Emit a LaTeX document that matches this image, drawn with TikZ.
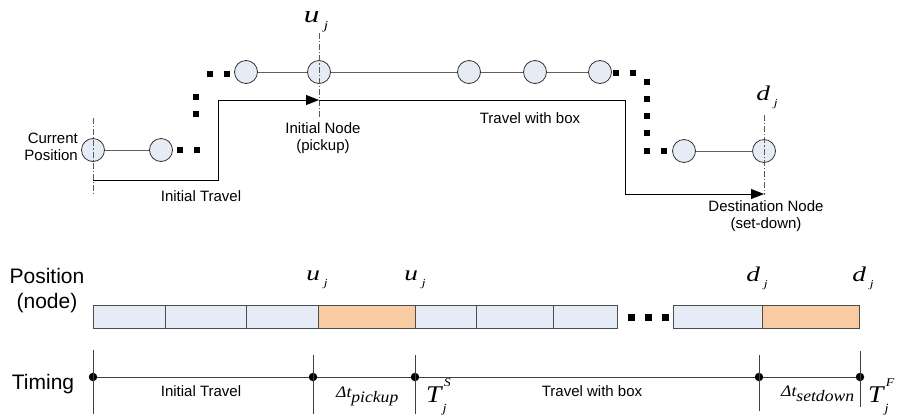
\documentclass[tikz,border=0pt]{standalone}
\usepackage{fontspec}
\setmainfont{Liberation Sans}
\newfontfamily\tms{Liberation Serif}
\usetikzlibrary{arrows.meta}
\definecolor{cellblue}{HTML}{E6ECF6}
\definecolor{cellorange}{HTML}{F9CBA3}
\definecolor{edgegray}{HTML}{606060}
\newcommand\txt[1]{\fontsize{#1}{#1}\selectfont}
% wide italic variable with a lowered subscript, e.g. u_j  (#3 = horizontal stretch)
\newcommand\vsub[3]{\scalebox{#3}[1]{\tms\itshape #1\hspace{0.14em}\raisebox{-0.3em}{\scalebox{0.5}{#2}}}}
% T with a superscript and a subscript j below
\newcommand\tstack[1]{\scalebox{1.15}[1]{\tms\itshape T\rlap{\hspace{0.08em}\raisebox{0.66em}{\scalebox{0.5}{#1}}}\hspace{0.04em}\raisebox{-0.42em}{\scalebox{0.52}{j}}}}
% Delta t with a word subscript
\newcommand\dsub[1]{\scalebox{1.1}[1]{\tms\itshape \symbol{"0394}t\raisebox{-0.36em}{#1}}}
\begin{document}
\begin{tikzpicture}[x=1pt,y=-1pt,
  stop/.style={circle, draw=black!80, fill=cellblue, minimum size=23pt, inner sep=0pt, line width=0.8pt},
  link/.style={draw=edgegray, line width=0.9pt},
  sq/.style={rectangle, fill=black, minimum size=6.5pt, inner sep=0pt},
  route/.style={draw=black, line width=0.9pt},
  tip/.style={-{Triangle[length=13pt,width=10pt]}},
  axisline/.style={draw=black!65, line width=0.8pt, dash pattern=on 6pt off 2pt on 1.2pt off 2pt},
  lbl/.style={font=\txt{15}, inner sep=0pt},
  head/.style={font=\txt{21}, inner sep=0pt},
  var/.style={inner sep=0pt, anchor=base},
  cell/.style={draw=black!70, line width=0.9pt, minimum height=23pt, inner sep=0pt, anchor=west, fill=cellblue},
  hold/.style={cell, fill=cellorange},
  tdot/.style={circle, fill=black, minimum size=8.5pt, inner sep=0pt},
  tick/.style={draw=black!75, line width=0.9pt},
  tline/.style={draw=black!75, line width=0.9pt}
]
\useasboundingbox (0,0) rectangle (908,416);

% ---------- network of stops ----------
\node[stop] (s1) at (93,150) {};
\node[stop] (s2) at (161,150) {};
\node[stop] (s3) at (246,72) {};
\node[stop] (su) at (319,72) {};
\node[stop] (s5) at (469,72) {};
\node[stop] (s6) at (535,72) {};
\node[stop] (s7) at (600,72) {};
\node[stop] (s8) at (684,151) {};
\node[stop] (sd) at (764,151) {};
\draw[link] (s1) -- (s2);
\draw[link] (s3) -- (su) -- (s5) -- (s6) -- (s7);
\draw[link] (s8) -- (sd);

% dotted gaps between the stop groups
\foreach \x/\y [count=\i] in {180/150, 197/150, 196/97, 196/114, 210/74, 227/74,
  616/73, 633/73, 647/82, 647/99, 647/116, 647/133, 647/151, 664/151}
  \node[sq] (g\i) at (\x,\y) {};

% vertical reference axes
\coordinate (a1t) at (93,118);  \coordinate (a1b) at (93,195);
\coordinate (a2t) at (319,33);  \coordinate (a2b) at (319,118);
\coordinate (a3t) at (764,115); \coordinate (a3b) at (764,195);
\draw[axisline] (a1t) -- (a1b);
\draw[axisline] (a2t) -- (a2b);
\draw[axisline] (a3t) -- (a3b);

% travel route
\coordinate (p0) at (93,180);
\coordinate (p1) at (218,180);
\coordinate (p2) at (218,100);
\coordinate (pu) at (319,100);
\coordinate (p3) at (625,100);
\coordinate (p4) at (625,194);
\coordinate (pd) at (764,194);
\draw[route, tip] (p0) -- (p1) -- (p2) -- (pu);
\draw[route, tip] (pu) -- (p3) -- (p4) -- (pd);

% labels of the upper part
\node[var, font=\txt{24}] (uj) at (316,22) {\vsub{u}{j}{1.3}};
\node[var, font=\txt{21}] (dj) at (767,100) {\vsub{d}{j}{1.3}};
\node[lbl, align=right, anchor=east] (cur) at (78,147) {Current\\[2pt]Position};
\node[lbl, align=center] (ini) at (323,138) {Initial Node\\[2pt](pickup)};
\node[lbl] (itr) at (201,196) {Initial Travel};
\node[lbl] (twb) at (530,118) {Travel with box};
\node[lbl, align=center] (dst) at (766,216) {Destination Node\\[2pt](set-down)};

% ---------- position bar ----------
\node[head, align=center] (pos) at (47,291) {Position\\[4pt](node)};
\node[cell, minimum width=72pt] (c1) at (93,316.5) {};
\node[cell, minimum width=81pt] (c2) at (165,316.5) {};
\node[cell, minimum width=72pt] (c3) at (246,316.5) {};
\node[hold, minimum width=97pt] (c4) at (318,316.5) {};
\node[cell, minimum width=61pt] (c5) at (415,316.5) {};
\node[cell, minimum width=77pt] (c6) at (476,316.5) {};
\node[cell, minimum width=64pt] (c7) at (553,316.5) {};
\node[sq, minimum size=7pt] (b1) at (631,317) {};
\node[sq, minimum size=7pt] (b2) at (648,317) {};
\node[sq, minimum size=7pt] (b3) at (665,317) {};
\node[cell, minimum width=89pt] (c8) at (673,316.5) {};
\node[hold, minimum width=97pt] (c9) at (762,316.5) {};

\node[var, font=\txt{21}] (pu1) at (317,280) {\vsub{u}{j}{1.3}};
\node[var, font=\txt{21}] (pu2) at (415,280) {\vsub{u}{j}{1.3}};
\node[var, font=\txt{21}] (pd1) at (757,281) {\vsub{d}{j}{1.3}};
\node[var, font=\txt{21}] (pd2) at (863,281) {\vsub{d}{j}{1.3}};

% ---------- timing line ----------
\node[head] (tim) at (43,384) {Timing};
\node[tdot] (t0) at (93,377) {};
\node[tdot] (t1) at (313,377) {};
\node[tdot] (t2) at (415,377) {};
\node[tdot] (t3) at (759,377) {};
\node[tdot] (t4) at (860,377) {};
\draw[tline] (t0) -- (t1) -- (t2) -- (t3) -- (t4);

\coordinate (k0t) at (93,350);  \coordinate (k0b) at (93,414);
\coordinate (k1t) at (313,355); \coordinate (k1b) at (313,414);
\coordinate (k2t) at (415,355); \coordinate (k2b) at (415,414);
\coordinate (k3t) at (759,355); \coordinate (k3b) at (759,411);
\coordinate (k4t) at (860,351); \coordinate (k4b) at (860,407);
\draw[tick] (k0t) -- (k0b);
\draw[tick] (k1t) -- (k1b);
\draw[tick] (k2t) -- (k2b);
\draw[tick] (k3t) -- (k3b);
\draw[tick] (k4t) -- (k4b);

\node[lbl] (lit) at (201,391) {Initial Travel};
\node[lbl] (lwb) at (592,391) {Travel with box};
\node[var, anchor=base west, font=\txt{16}] (dtp) at (336,397) {\dsub{pickup}};
\node[var, anchor=base west, font=\txt{16}] (dts) at (781,396) {\dsub{setdown}};
\node[var, anchor=base west, font=\txt{24}] (ts) at (426,402) {\tstack{S}};
\node[var, anchor=base west, font=\txt{24}] (tf) at (868,402) {\tstack{F}};
\end{tikzpicture}
\end{document}
